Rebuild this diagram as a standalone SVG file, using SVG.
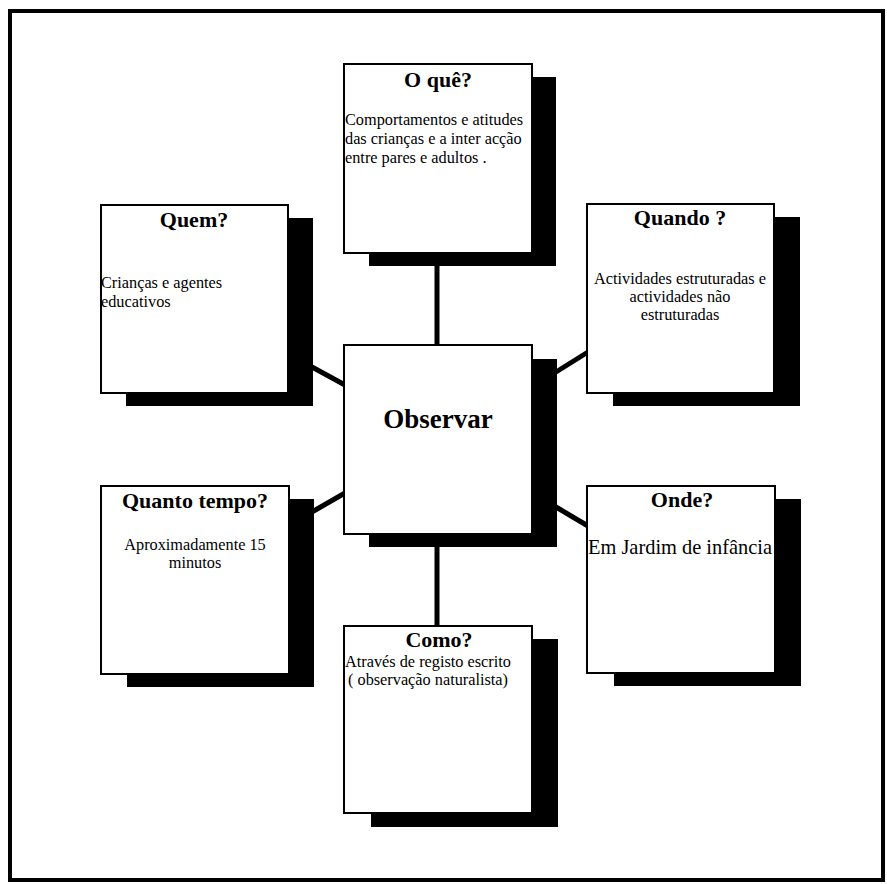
<svg xmlns="http://www.w3.org/2000/svg" width="887" height="884" viewBox="0 0 887 884">
  <style>
    .frame { fill: none; stroke: #000; stroke-width: 4; }
    .shadow { fill: #000; }
    .box { fill: #fff; stroke: #000; stroke-width: 2; }
    .link { stroke: #000; stroke-width: 5; fill: none; }
    .title { font-family: "Liberation Serif", "Times New Roman", serif; font-weight: bold; font-size: 22px; fill: #000; text-anchor: middle; }
    .body { font-family: "Liberation Serif", "Times New Roman", serif; font-size: 16.3px; fill: #000; }
    .mid { text-anchor: middle; }
    .big { font-family: "Liberation Serif", "Times New Roman", serif; font-weight: bold; font-size: 27px; fill: #000; text-anchor: middle; }
  </style>

  <rect width="887" height="884" fill="#fff"/>
  <rect class="frame" x="10" y="11" width="873" height="869"/>

  <!-- connectors between the central node and the question boxes -->
  <g id="connectors">
    <line class="link" x1="437" y1="265" x2="437" y2="346"/>
    <line class="link" x1="437" y1="546" x2="437" y2="627"/>
    <line class="link" x1="312" y1="367" x2="345" y2="385"/>
    <line class="link" x1="312" y1="512" x2="345" y2="493"/>
    <line class="link" x1="556" y1="372" x2="588" y2="352"/>
    <line class="link" x1="556" y1="507" x2="588" y2="526"/>
  </g>

  <g id="node-oque">
    <rect class="shadow" x="369" y="77" width="187" height="189"/>
    <rect class="box" x="344" y="64" width="188" height="189"/>
    <text class="title" x="438" y="87">O quê?</text>
    <text class="body" x="345" y="125">Comportamentos e atitudes</text>
    <text class="body" x="345" y="144">das crianças e a inter acção</text>
    <text class="body" x="345" y="163">entre pares e adultos .</text>
  </g>

  <g id="node-quem">
    <rect class="shadow" x="126" y="218" width="187" height="188"/>
    <rect class="box" x="101" y="205" width="187" height="188"/>
    <text class="title" x="194" y="227">Quem?</text>
    <text class="body" x="101" y="288">Crianças e agentes</text>
    <text class="body" x="101" y="307">educativos</text>
  </g>

  <g id="node-quando">
    <rect class="shadow" x="613" y="217" width="187" height="189"/>
    <rect class="box" x="587" y="204" width="187" height="189"/>
    <text class="title" x="680" y="225">Quando ?</text>
    <text class="body mid" x="680" y="284">Actividades estruturadas e</text>
    <text class="body mid" x="680" y="302">actividades não</text>
    <text class="body mid" x="680" y="320">estruturadas</text>
  </g>

  <g id="node-observar">
    <rect class="shadow" x="369" y="359" width="188" height="188"/>
    <rect class="box" x="344" y="345" width="188" height="189"/>
    <text class="big" x="438" y="428">Observar</text>
  </g>

  <g id="node-quanto-tempo">
    <rect class="shadow" x="127" y="499" width="187" height="188"/>
    <rect class="box" x="101" y="486" width="188" height="188"/>
    <text class="title" x="195" y="508">Quanto tempo?</text>
    <text class="body mid" x="195" y="550">Aproximadamente 15</text>
    <text class="body mid" x="195" y="568">minutos</text>
  </g>

  <g id="node-onde">
    <rect class="shadow" x="614" y="499" width="187" height="187"/>
    <rect class="box" x="587" y="486" width="188" height="187"/>
    <text class="title" x="682" y="507">Onde?</text>
    <text class="body" x="588" y="554" style="font-size:20.4px">Em Jardim de infância</text>
  </g>

  <g id="node-como">
    <rect class="shadow" x="371" y="639" width="187" height="188"/>
    <rect class="box" x="344" y="626" width="188" height="187"/>
    <text class="title" x="439" y="647">Como?</text>
    <text class="body" x="345" y="667">Através de registo escrito</text>
    <text class="body" x="348" y="685">( observação naturalista)</text>
  </g>
</svg>
